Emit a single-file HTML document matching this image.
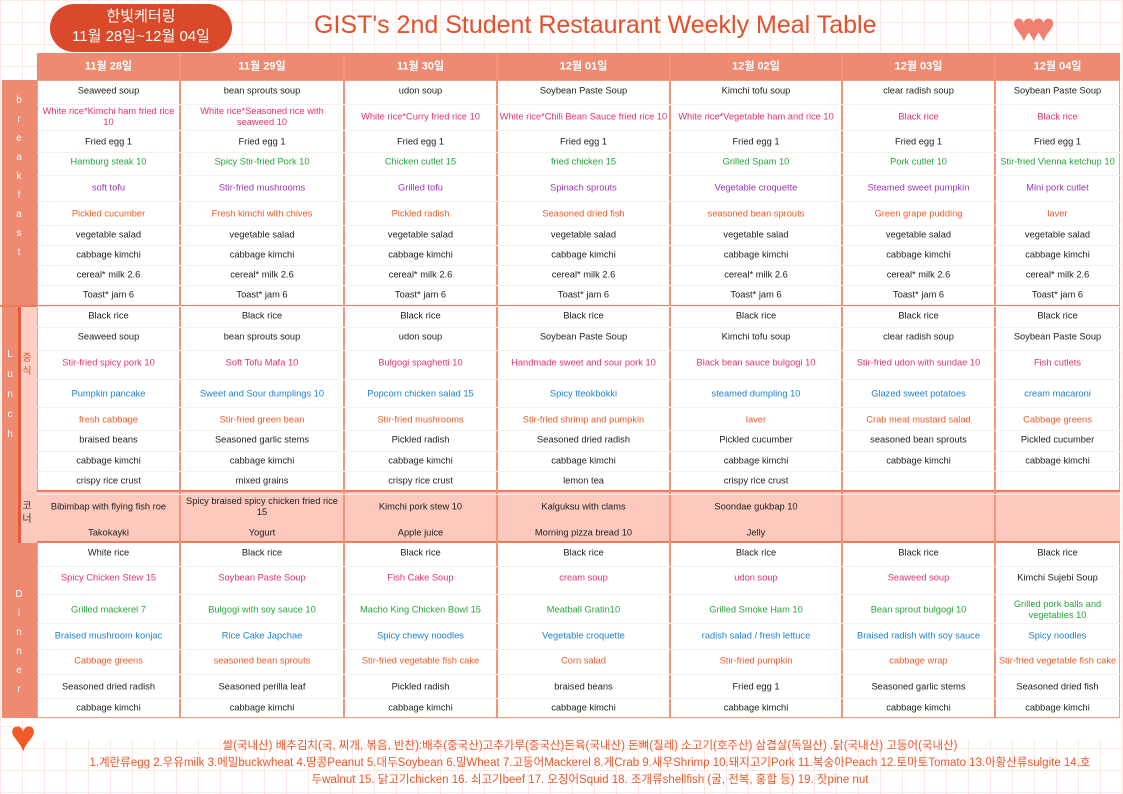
<!DOCTYPE html><html><head><meta charset="utf-8"><style>
body{margin:0;width:1123px;height:794px;overflow:hidden;position:relative;font-family:"Liberation Sans","Noto Sans CJK KR",sans-serif;
background-color:#fff;background-image:linear-gradient(#fde9e4 1px,transparent 1px),linear-gradient(90deg,#fde9e4 1px,transparent 1px);background-size:22px 22px}
.a{position:absolute;box-sizing:border-box}
.t{position:absolute;text-align:center;font-size:9.3px;line-height:11px;transform:translateY(-50%);padding:0 2px;box-sizing:border-box}
.k{color:#222}.p{color:#e8306e}.g{color:#26a63a}.u{color:#9a35b8}.o{color:#f05a28}.b{color:#1d80d0}
</style></head><body>
<div class="a" style="left:50px;top:4px;width:182px;height:48px;background:#d9492a;border-radius:24px;color:#fff;text-align:center;font-size:15px;line-height:20px;padding-top:3px">한빛케터링<br>11월 28일~12월 04일</div>
<div class="a" style="left:314px;top:11px;font-size:25px;color:#e4502a;white-space:nowrap">GIST's 2nd Student Restaurant Weekly Meal Table</div>
<div class="a" style="left:1012px;top:8px;width:80px;height:40px;color:#ef8070;font-size:40px;line-height:40px;letter-spacing:-14px">♥♥♥</div>
<div class="a" style="left:37px;top:53px;width:1083px;height:27px;background:#ef8a72"></div>
<div class="a" style="left:2px;top:80px;width:35px;height:638px;background:#ef8a72"></div>
<div class="a" style="left:18px;top:306px;width:19px;height:184px;background:#fcd0c4;border-left:3px solid #e8583a"></div>
<div class="a" style="left:18px;top:490px;width:19px;height:53px;background:#fcc9bc;border-left:3px solid #e8583a"></div>
<div class="a" style="left:37px;top:80px;width:1083px;height:638px;background:#fff;border:1px solid #f2a08c"></div>
<div class="a" style="left:37px;top:490px;width:1083px;height:53px;background:#fcc9bc;border-top:2px solid #ef7a5e;border-bottom:2px solid #ef7a5e"></div>
<div class="a" style="left:0;top:305px;width:1120px;height:2px;background:#ef7a5e"></div>
<div class="a" style="left:37px;top:718px;width:1083px;height:22px;background:#fff;border-top:1px solid #f2a08c"></div>
<div id="c"></div>
<div class="a" style="left:8px;top:91px;width:22px;text-align:center;color:#fff;font-size:10px;line-height:19px">b<br>r<br>e<br>a<br>k<br>f<br>a<br>s<br>t</div>
<div class="a" style="left:3px;top:345px;width:14px;text-align:center;color:#fff;font-size:10px;line-height:20px">L<br>u<br>n<br>c<br>h</div>
<div class="a" style="left:19px;top:352px;width:16px;text-align:center;color:#e0522f;font-size:10px;line-height:13px">중<br>식</div>
<div class="a" style="left:19px;top:500px;width:16px;text-align:center;color:#333;font-size:10px;line-height:13px">코<br>너</div>
<div class="a" style="left:8px;top:585px;width:22px;text-align:center;color:#fff;font-size:10px;line-height:19px">D<br>i<br>n<br>n<br>e<br>r</div>
<div class="a" style="left:10px;top:715px;color:#f05a28;font-size:44px;line-height:44px">♥</div>
<div class="a" style="left:60px;top:738px;width:1060px;color:#f0552a;font-size:11.5px;line-height:17px;text-align:center">쌀(국내산) 배추김치(국, 찌개, 볶음, 반찬):배추(중국산)고추가루(중국산)돈육(국내산) 돈뼈(칠레) 소고기(호주산) 삼겹살(독일산) .닭(국내산) 고등어(국내산)<br>1.계란류egg 2.우유milk 3.메밀buckwheat 4.땅콩Peanut 5.대두Soybean 6.밀Wheat 7.고등어Mackerel 8.게Crab 9.새우Shrimp 10.돼지고기Pork 11.복숭아Peach 12.토마토Tomato 13.아황산류sulgite 14.호<br>두walnut 15. 닭고기chicken 16. 쇠고기beef 17. 오징어Squid 18. 조개류shellfish (굴, 전복, 홍합 등) 19. 잣pine nut</div>
<script>
var X=[37,180,344,497,670,842,995,1120];
var D=["11월 28일","11월 29일","11월 30일","12월 01일","12월 02일","12월 03일","12월 04일"];
var Y=[91,117,142,162,188,214,235,255,275,295, 316,337,363,394,420,440,461,481, 507,533, 553,578,610,636,661,687,708];
var C="kpkguokkkk"+"kkpbokkk"+"kk"+"kpgbokk";
var M=[
["Seaweed soup","White rice*Kimchi ham fried rice 10","Fried egg 1","Hamburg steak 10","soft tofu","Pickled cucumber","vegetable salad","cabbage kimchi","cereal* milk 2.6","Toast* jam 6","Black rice","Seaweed soup","Stir-fried spicy pork 10","Pumpkin pancake","fresh cabbage","braised beans","cabbage kimchi","crispy rice crust","Bibimbap with flying fish roe","Takokayki","White rice","Spicy Chicken Stew 15","Grilled mackerel 7","Braised mushroom konjac","Cabbage greens","Seasoned dried radish","cabbage kimchi"],
["bean sprouts soup","White rice*Seasoned rice with seaweed 10","Fried egg 1","Spicy Stir-fried Pork 10","Stir-fried mushrooms","Fresh kimchi with chives","vegetable salad","cabbage kimchi","cereal* milk 2.6","Toast* jam 6","Black rice","bean sprouts soup","Soft Tofu Mafa 10","Sweet and Sour dumplings 10","Stir-fried green bean","Seasoned garlic stems","cabbage kimchi","mixed grains","Spicy braised spicy chicken fried rice 15","Yogurt","Black rice","Soybean Paste Soup","Bulgogi with soy sauce 10","Rice Cake Japchae","seasoned bean sprouts","Seasoned perilla leaf","cabbage kimchi"],
["udon soup","White rice*Curry fried rice 10","Fried egg 1","Chicken cutlet 15","Grilled tofu","Pickled radish","vegetable salad","cabbage kimchi","cereal* milk 2.6","Toast* jam 6","Black rice","udon soup","Bulgogi spaghetti 10","Popcorn chicken salad 15","Stir-fried mushrooms","Pickled radish","cabbage kimchi","crispy rice crust","Kimchi pork stew 10","Apple juice","Black rice","Fish Cake Soup","Macho King Chicken Bowl 15","Spicy chewy noodles","Stir-fried vegetable fish cake","Pickled radish","cabbage kimchi"],
["Soybean Paste Soup","White rice*Chili Bean Sauce fried rice 10","Fried egg 1","fried chicken 15","Spinach sprouts","Seasoned dried fish","vegetable salad","cabbage kimchi","cereal* milk 2.6","Toast* jam 6","Black rice","Soybean Paste Soup","Handmade sweet and sour pork 10","Spicy tteokbokki","Stir-fried shrimp and pumpkin","Seasoned dried radish","cabbage kimchi","lemon tea","Kalguksu with clams","Morning pizza bread 10","Black rice","cream soup","Meatball Gratin10","Vegetable croquette","Corn salad","braised beans","cabbage kimchi"],
["Kimchi tofu soup","White rice*Vegetable ham and rice 10","Fried egg 1","Grilled Spam 10","Vegetable croquette","seasoned bean sprouts","vegetable salad","cabbage kimchi","cereal* milk 2.6","Toast* jam 6","Black rice","Kimchi tofu soup","Black bean sauce bulgogi 10","steamed dumpling 10","laver","Pickled cucumber","cabbage kimchi","crispy rice crust","Soondae gukbap 10","Jelly","Black rice","udon soup","Grilled Smoke Ham 10","radish salad / fresh lettuce","Stir-fried pumpkin","Fried egg 1","cabbage kimchi"],
["clear radish soup","Black rice","Fried egg 1","Pork cutlet 10","Steamed sweet pumpkin","Green grape pudding","vegetable salad","cabbage kimchi","cereal* milk 2.6","Toast* jam 6","Black rice","clear radish soup","Stir-fried udon with sundae 10","Glazed sweet potatoes","Crab meat mustard salad","seasoned bean sprouts","cabbage kimchi","","","","Black rice","Seaweed soup","Bean sprout bulgogi 10","Braised radish with soy sauce","cabbage wrap","Seasoned garlic stems","cabbage kimchi"],
["Soybean Paste Soup","Black rice","Fried egg 1","Stir-fried Vienna ketchup 10","Mini pork cutlet","laver","vegetable salad","cabbage kimchi","cereal* milk 2.6","Toast* jam 6","Black rice","Soybean Paste Soup","Fish cutlets","cream macaroni","Cabbage greens","Pickled cucumber","cabbage kimchi","","","","Black rice","Kimchi Sujebi Soup","Grilled pork balls and vegetables 10","Spicy noodles","Stir-fried vegetable fish cake","Seasoned dried fish","cabbage kimchi"]];
var h="";
for(var i=0;i<7;i++){var l=X[i],w=X[i+1]-X[i];
h+='<div class="t" style="left:'+l+'px;top:67px;width:'+w+'px;color:#fff;font-size:11px;font-weight:bold">'+D[i]+'</div>';
if(i>0)h+='<div class="a" style="left:'+(l-1)+'px;top:53px;width:2px;height:665px;background:#f2937a"></div>';
for(var r=0;r<27;r++){var cl=C[r];if(i==6&&r==1)cl='p';if(i==5&&r==1)cl='p';if(i==6&&r==21)cl='k';if(r>=18&&r<20)cl='k';
h+='<div class="t '+cl+'" style="left:'+l+'px;top:'+Y[r]+'px;width:'+w+'px">'+M[i][r]+'</div>';}}
for(var r=0;r<27;r++){if(r==18||r==19)continue;h+='<div class="a" style="left:37px;top:'+(r<26?(Y[r]+Y[r+1])/2:718)+'px;width:1083px;height:1px;background:#f8efec"></div>'}
document.getElementById('c').innerHTML=h;
</script>
</body></html>
